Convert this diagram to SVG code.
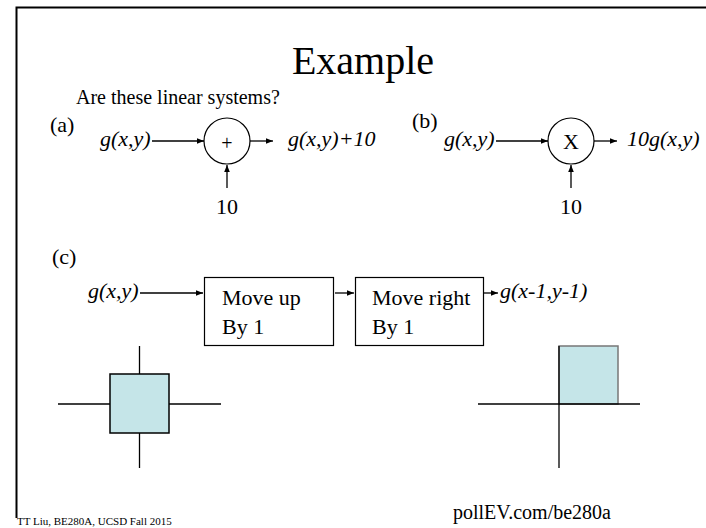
<svg xmlns="http://www.w3.org/2000/svg" width="706" height="528" viewBox="0 0 706 528">
<style>
text{font-family:"Liberation Serif","Times New Roman",serif;fill:#000}
.t20{font-size:20px}
.t22{font-size:22px}
.it{font-style:italic}
.line{stroke:#000;stroke-width:1.3;fill:none}
.arr{stroke:#000;stroke-width:1.3;fill:none;marker-end:url(#ah)}
.node{fill:#fff;stroke:#000;stroke-width:1.2}
.sq{fill:#c5e5e8;stroke:#000;stroke-width:1.5}
</style>
<defs>
<marker id="ah" viewBox="0 0 10 10" refX="10" refY="5" markerWidth="7" markerHeight="7" markerUnits="userSpaceOnUse" orient="auto">
<path d="M0,1 L10,5 L0,9 z" fill="#000"/>
</marker>
</defs>
<rect width="706" height="528" fill="#fff"/>
<path d="M16.5,518 V7.5 H706" fill="none" stroke="#000" stroke-width="2"/>
<text x="363" y="74" font-size="40" text-anchor="middle">Example</text>
<text x="76" y="104" class="t20">Are these linear systems?</text>
<text x="50" y="132" class="t22">(a)</text>
<text x="412" y="128" class="t22">(b)</text>
<text x="52" y="264" class="t22">(c)</text>

<g id="connectors">
<line class="arr" x1="152" y1="141" x2="204" y2="141"/>
<line class="arr" x1="250" y1="141" x2="273" y2="141"/>
<line class="arr" x1="227" y1="188" x2="227" y2="165"/>
<line class="arr" x1="496" y1="141" x2="548" y2="141"/>
<line class="arr" x1="594" y1="141" x2="617" y2="141"/>
<line class="arr" x1="571" y1="188" x2="571" y2="165"/>
<line class="arr" x1="140" y1="293" x2="203" y2="293"/>
<line class="arr" x1="335" y1="293" x2="354" y2="293"/>
<line class="arr" x1="484" y1="293" x2="498" y2="293"/>
</g>

<g id="a-in"><text x="100" y="146" class="t22 it">g(x,y)</text></g>
<g id="a-sum"><circle class="node" cx="227" cy="141" r="23"/><text x="227" y="150" font-size="20" text-anchor="middle">+</text></g>
<g id="a-out"><text x="288" y="146" class="t22 it">g(x,y)+10</text></g>
<g id="a-const"><text x="227" y="214" class="t22" text-anchor="middle">10</text></g>

<g id="b-in"><text x="444" y="146" class="t22 it">g(x,y)</text></g>
<g id="b-mul"><circle class="node" cx="571" cy="141" r="23"/><text x="571" y="149" class="t22" text-anchor="middle">X</text></g>
<g id="b-out"><text x="627" y="146" class="t22 it">10g(x,y)</text></g>
<g id="b-const"><text x="571" y="214" class="t22" text-anchor="middle">10</text></g>

<g id="c-in"><text x="88" y="298" class="t22 it">g(x,y)</text></g>
<g id="c-up"><rect class="node" x="204.5" y="277.5" width="129" height="68"/><text x="222" y="305" class="t22">Move up</text><text x="222" y="334" class="t22">By 1</text></g>
<g id="c-right"><rect class="node" x="355.5" y="277.5" width="128" height="68"/><text x="372" y="305" class="t22">Move right</text><text x="372" y="334" class="t22">By 1</text></g>
<g id="c-out"><text x="500" y="298" class="t22 it">g(x-1,y-1)</text></g>

<g id="plot-left">
<line class="line" x1="58" y1="404" x2="221" y2="404"/>
<line class="line" x1="139.5" y1="346" x2="139.5" y2="468"/>
<rect class="sq" x="110" y="374" width="59" height="59"/>
</g>
<g id="plot-right">
<rect x="559" y="346" width="59" height="58" fill="#c5e5e8" stroke="#777" stroke-width="1.5"/>
<line class="line" x1="478" y1="404" x2="640" y2="404"/>
<line class="line" x1="559" y1="346" x2="559" y2="468"/>
</g>

<text x="17" y="525" font-size="11">TT Liu, BE280A, UCSD Fall 2015</text>
<text x="453" y="519" class="t20">pollEV.com/be280a</text>
</svg>
